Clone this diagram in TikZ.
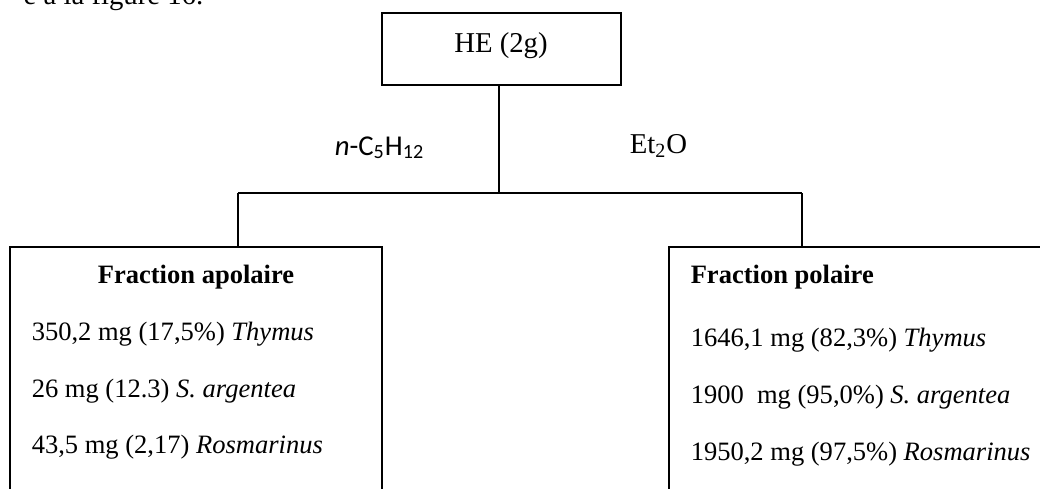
\documentclass[tikz,border=0pt]{standalone}
\usepackage{fontspec}
\setmainfont{Liberation Serif}
\newfontfamily\calibri{Carlito}
\usetikzlibrary{fit}
\tikzset{
  box/.style={draw, line width=0.7pt, inner sep=0pt},
  txt/.style={anchor=base west, inner sep=0pt, font=\fontsize{12}{14}\selectfont},
  bigtxt/.style={txt, font=\fontsize{13}{15}\selectfont},
}
\begin{document}
\begin{tikzpicture}[x=0.4523pt, y=-0.4523pt, line width=0.7pt]
    \useasboundingbox (0,0) rectangle (1040,489);
    \clip (0,0) rectangle (1040,489);
    % text above the figure
    \node [bigtxt, anchor=base east] (intro) at (204,4) {e à la figure 16.};
    % boxes
    \node [box, fit={(382,13) (621,85)}]   (he)   {};
    \node [box, fit={(10,247) (382,530)}]  (apol) {};
    \node [box, fit={(669,247) (1090,530)}] (pol)  {};
    \node [bigtxt, anchor=base] (helabel) at (501,52) {HE (2g)};
    % connectors
    \coordinate (split)   at (499,193);
    \coordinate (apoltop) at (238,193);
    \coordinate (poltop)  at (802,193);
    \draw (he.south -| split) -- (split);
    \draw (apoltop) -- (poltop);
    \draw (apoltop) -- (apoltop |- apol.north);
    \draw (poltop)  -- (poltop |- pol.north);
    % solvents
    \node [bigtxt] (pentane) at (334,155) {\calibri\textit{n}-C\textsubscript{5}H\textsubscript{12}};
    \node [bigtxt] (ether)   at (629,153) {Et\textsubscript{2}O};
    % apolar fraction
    \node [txt, anchor=base] (apoltitle) at (196,283) {\textbf{Fraction apolaire}};
    \node [txt] (apol1) at (31,340) {350,2 mg (17,5\%) \textit{Thymus}};
    \node [txt] (apol2) at (31,397) {26 mg (12.3) \textit{S. argentea}};
    \node [txt] (apol3) at (31,453) {43,5 mg (2,17) \textit{Rosmarinus}};
    % polar fraction
    \node [txt] (poltitle) at (690,283) {\textbf{Fraction polaire}};
    \node [txt] (pol1) at (690,346) {1646,1 mg (82,3\%) \textit{Thymus}};
    \node [txt] (pol2) at (690,403) {1900\ \ mg (95,0\%) \textit{S. argentea}};
    \node [txt] (pol3) at (690,460) {1950,2 mg (97,5\%) \textit{Rosmarinus}};
\end{tikzpicture}
\end{document}
